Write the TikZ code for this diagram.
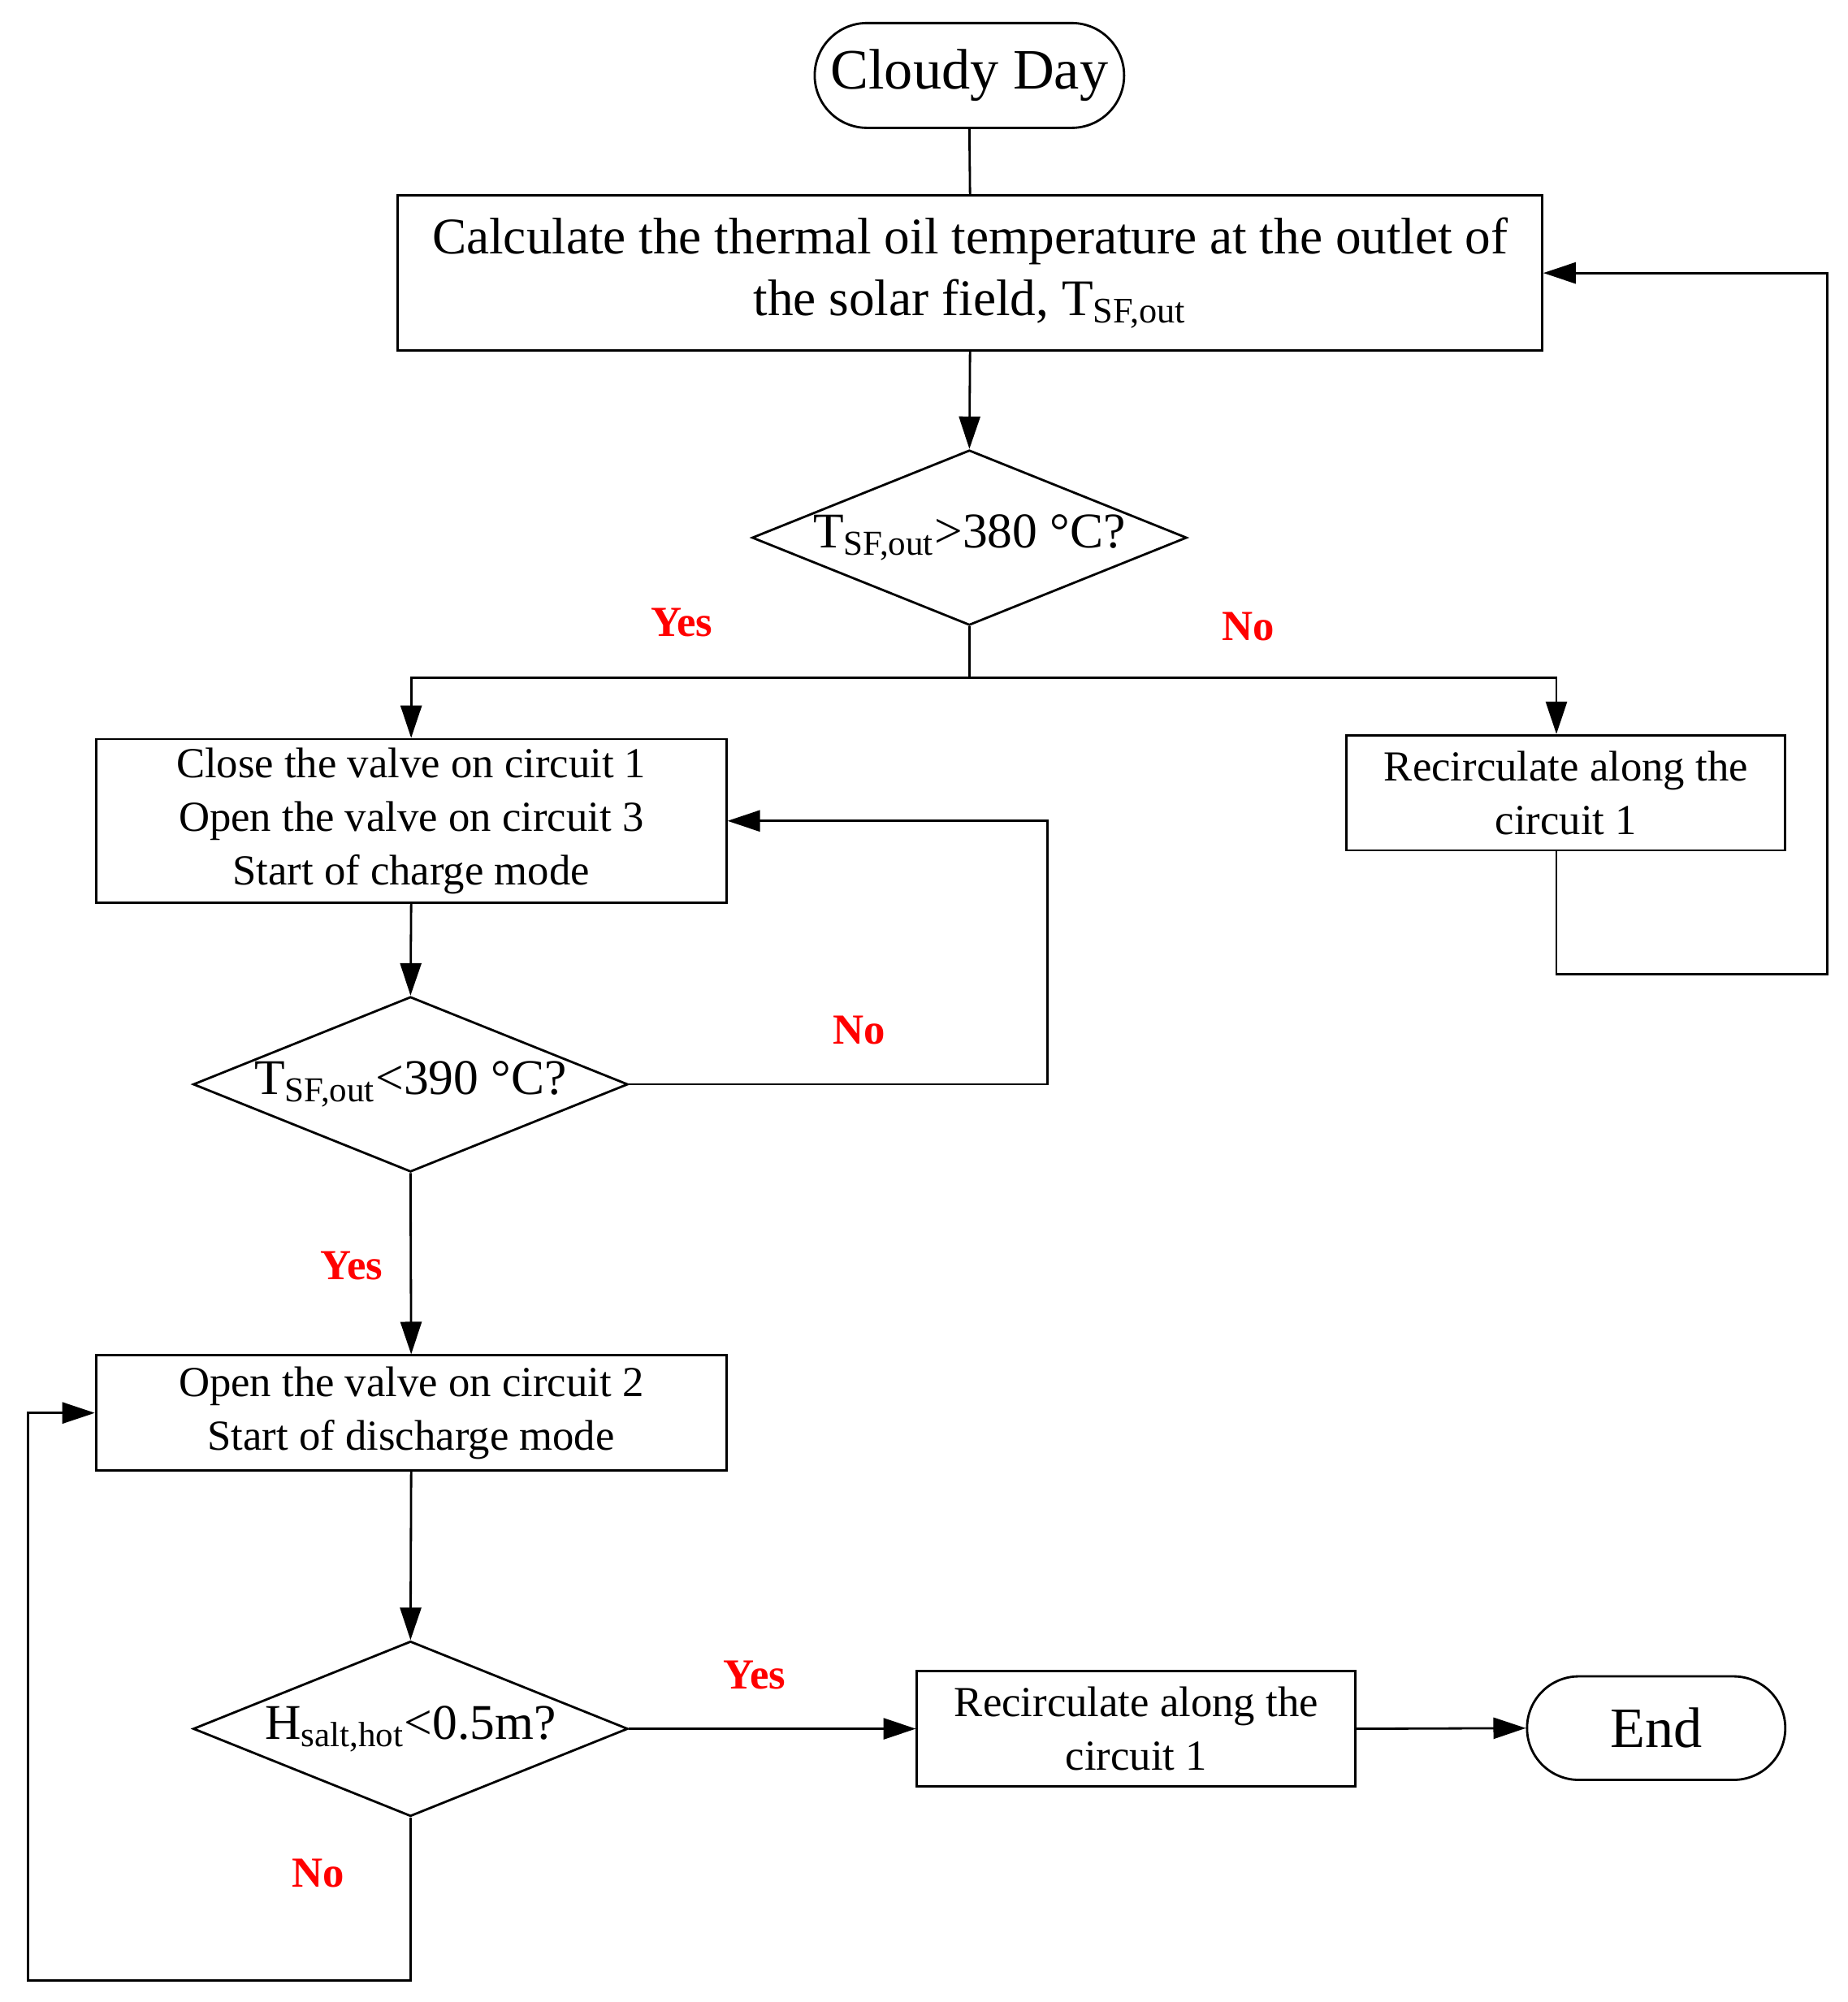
\documentclass[tikz,border=0pt]{standalone}
\usepackage{fontspec}
\setmainfont{Liberation Serif}
\usetikzlibrary{arrows.meta,shapes.geometric,calc}
\begin{document}
\begin{tikzpicture}[x=0.015744cm, y=-0.015744cm,
  line width=0.8pt,
  arr/.style={-{Triangle[length=0.4cm,width=0.26cm]}},
  box/.style={draw, rectangle, inner sep=0pt, align=center, font=\fontsize{15}{18.7}\selectfont},
  term/.style={draw, rectangle, inner sep=0pt, font=\fontsize{20}{24}\selectfont},
  dia/.style={draw, diamond, inner sep=0pt, minimum width=5.353cm, minimum height=2.157cm},
  dlab/.style={font=\fontsize{17.5}{21}\selectfont},
  lab/.style={text=red, font=\bfseries\fontsize{15}{18}\selectfont}
]
\useasboundingbox (0,0) rectangle (1445,1565.7);

% nodes
\node[term, minimum width=3.81cm, minimum height=1.291cm, rounded corners=0.645cm] (cloudy) at (758,59) {Cloudy Day};
\node[box, minimum width=14.09cm, minimum height=1.905cm, font=\fontsize{18}{21.4}\selectfont] (calc) at (758.5,213.5)
  {Calculate the thermal oil temperature at the outlet of\\the solar field, T\textsubscript{SF,out}};
\node[dia, label={[dlab]center:T\textsubscript{SF,out}>380 °C?}] (d1) at (758,420.5) {};
\node[box, minimum width=7.762cm, minimum height=2.015cm] (close) at (321.5,642)
  {Close the valve on circuit 1\\Open the valve on circuit 3\\Start of charge mode};
\node[box, minimum width=5.40cm, minimum height=1.417cm] (rec1) at (1224.5,620)
  {Recirculate along the\\circuit 1};
\node[dia, label={[dlab]center:T\textsubscript{SF,out}<390 °C?}] (d2) at (321,848) {};
\node[box, minimum width=7.762cm, minimum height=1.417cm] (open) at (321.5,1105)
  {Open the valve on circuit 2\\Start of discharge mode};
\node[dia, label={[dlab]center:H\textsubscript{salt,hot}<0.5m?}] (d3) at (321,1352) {};
\node[box, minimum width=5.40cm, minimum height=1.417cm] (rec2) at (888.5,1352)
  {Recirculate along the\\circuit 1};
\node[term, minimum width=3.18cm, minimum height=1.275cm, rounded corners=0.6375cm] (end) at (1295,1351.5) {End};

% labels
\node[lab] (y1) at (533,487) {Yes};
\node[lab] (n1) at (976,490) {No};
\node[lab] (n2) at (672,806) {No};
\node[lab] (y2) at (275,990) {Yes};
\node[lab] (y3) at (590,1310) {Yes};
\node[lab] (n3) at (249,1465) {No};

% helper coordinates
\coordinate (split) at (758,530);
\coordinate (rx) at (1217,0);
\coordinate (rloop) at (1429,762);
\coordinate (cx) at (819,0);
\coordinate (lb) at (22,1549);

% connectors
\draw (cloudy.south) -- (calc.north);
\draw[arr] (calc.south) -- (d1.north);
\draw (d1.south) -- (split);
\draw[arr] (split) -| (close.north);
\draw[arr] (split) -| (rec1.north -| rx);
\draw[arr] (rec1.south -| rx) |- (rloop) |- (calc.east);
\draw[arr] (close.south) -- (d2.north);
\draw[arr] (d2.east) -- (d2.east -| cx) |- (close.east);
\draw[arr] (d2.south) -- (open.north);
\draw[arr] (open.south) -- (d3.north);
\draw[arr] (d3.east) -- (rec2.west);
\draw[arr] (rec2.east) -- (end.west);
\draw[arr] (d3.south) |- (lb) |- (open.west);
\end{tikzpicture}
\end{document}
